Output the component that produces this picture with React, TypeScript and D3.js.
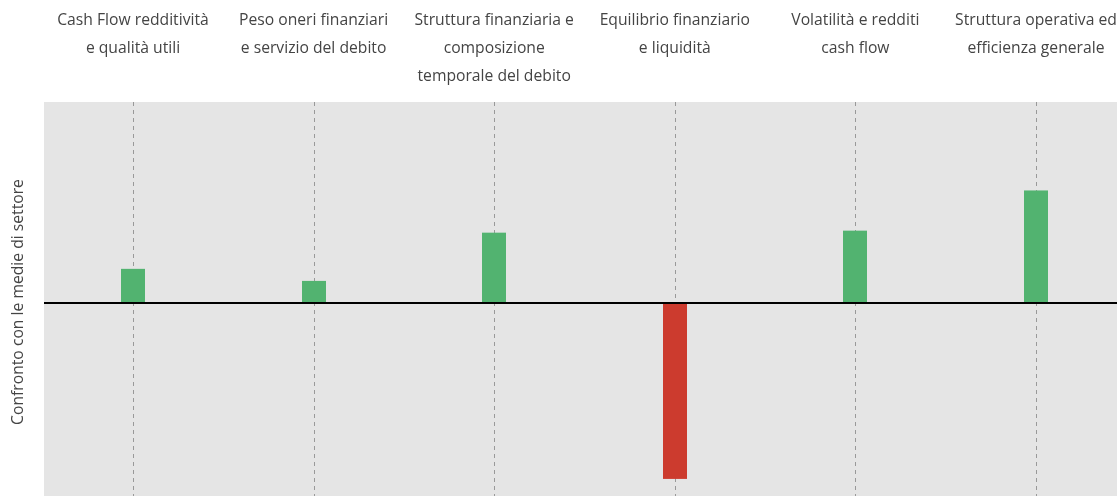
import React, { useEffect, useRef } from "react";
import * as d3 from "d3";

// area names, split on lines as in the header
const categories = [
  ["Cash Flow redditività", "e qualità utili"],
  ["Peso oneri finanziari", "e servizio del debito"],
  ["Struttura finanziaria e", "composizione", "temporale del debito"],
  ["Equilibrio finanziario", "e liquidità"],
  ["Volatilità e redditi", "cash flow"],
  ["Struttura operativa ed", "efficienza generale"],
];

// score relative to sector average (0 = average)
const scores = [0.17, 0.11, 0.35, -0.875, 0.36, 0.56];

const yTitle = "Confronto con le medie di settore";

const width = 1117;
const height = 496;

const App = () => {
  const ref = useRef<SVGSVGElement>(null);

  useEffect(() => {
    const svg = d3.select(ref.current);
    svg.selectAll("*").remove();

    const plot = { left: 44, top: 102, bottom: 496 };
    const keys = categories.map((c) => c.join(" "));

    const x = d3.scaleBand().domain(keys).range([42.7, 42.7 + 6 * 180.6]).padding(0);
    const y = d3.scaleLinear().domain([-0.96, 1]).range([plot.bottom, plot.top]);
    const barW = 24;
    const font = "'Open Sans', sans-serif";

    svg
      .append("rect")
      .attr("x", plot.left)
      .attr("y", plot.top)
      .attr("width", width - plot.left)
      .attr("height", plot.bottom - plot.top)
      .attr("fill", "#e5e5e5");

    const mid = (k) => (x(k) as number) + x.bandwidth() / 2;

    // dashed guides
    svg
      .append("g")
      .selectAll("line")
      .data(keys)
      .enter()
      .append("line")
      .attr("x1", (d) => Math.round(mid(d)) + 0.5)
      .attr("x2", (d) => Math.round(mid(d)) + 0.5)
      .attr("y1", plot.top)
      .attr("y2", plot.bottom)
      .attr("stroke", "#999")
      .attr("stroke-width", 1)
      .attr("stroke-dasharray", "4,4");

    svg
      .append("g")
      .selectAll("rect")
      .data(scores)
      .enter()
      .append("rect")
      .attr("x", (d, i) => Math.round(mid(keys[i]) - barW / 2))
      .attr("width", barW)
      .attr("y", (d) => y(Math.max(0, d)))
      .attr("height", (d) => Math.abs(y(d) - y(0)))
      .attr("fill", (d) => (d >= 0 ? "#52b370" : "#cc3b2e"));

    svg
      .append("line")
      .attr("x1", plot.left)
      .attr("x2", width)
      .attr("y1", y(0))
      .attr("y2", y(0))
      .attr("stroke", "#000")
      .attr("stroke-width", 2);

    // header labels
    const labels = svg
      .append("g")
      .selectAll("text")
      .data(categories)
      .enter()
      .append("text")
      .attr("text-anchor", "middle")
      .style("font-family", font)
      .style("font-size", "15.7px")
      .attr("fill", "#444");

    labels
      .selectAll("tspan")
      .data((d) => d.map((line) => ({ line, key: d.join(" ") })))
      .enter()
      .append("tspan")
      .attr("x", (d) => mid(d.key))
      .attr("y", (d, i) => 25 + i * 28)
      .text((d) => d.line);

    svg
      .append("text")
      .attr("transform", `translate(23, ${(plot.top + plot.bottom) / 2 + 3}) rotate(-90)`)
      .attr("text-anchor", "middle")
      .style("font-family", font)
      .style("font-size", "15.7px")
      .attr("fill", "#444")
      .text(yTitle);
  }, []);

  return (
    <div style={{ position: "fixed", left: 0, top: 0 }}>
      <svg ref={ref} width={width} height={height} style={{ display: "block" }}></svg>
    </div>
  );
};

export default App;
